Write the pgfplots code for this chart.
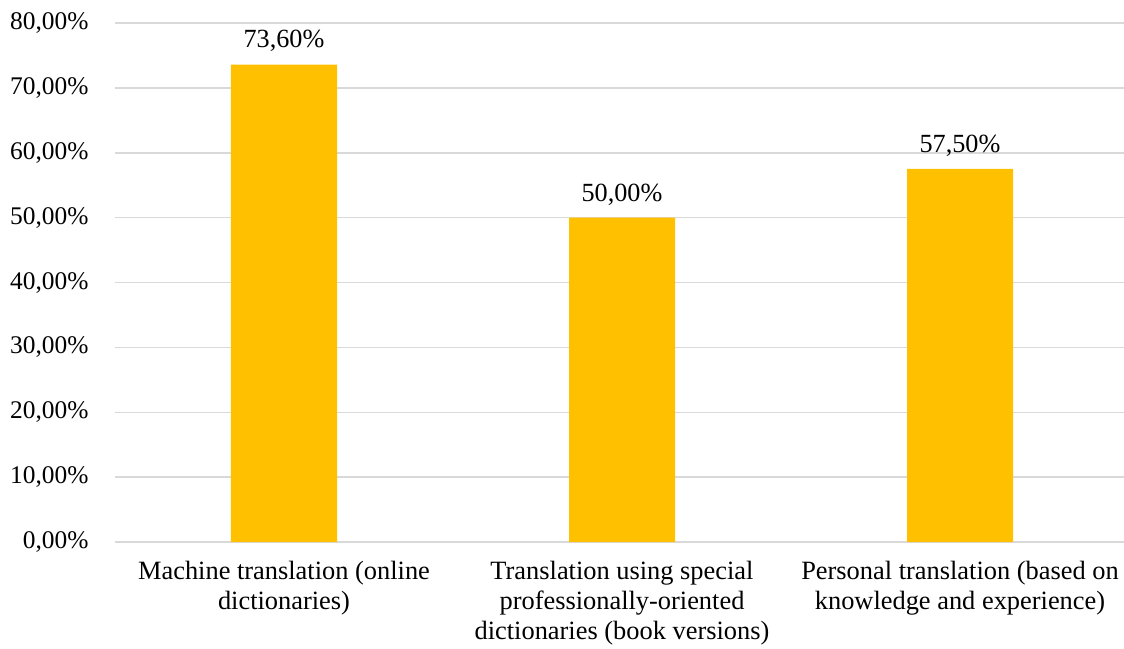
\documentclass[border=0pt]{standalone}
\usepackage{pgfplots}
\pgfplotsset{compat=1.18}
\usepackage{fontspec}
\setmainfont{Liberation Serif}
\definecolor{bargold}{HTML}{FFC000}
\definecolor{gridgray}{HTML}{D9D9D9}
\begin{document}
\fontsize{25}{32}\selectfont
\begin{tikzpicture}
\begin{axis}[
  at={(115pt,-542pt)}, anchor=south west,
  scale only axis,
  width=1009pt, height=519pt,
  xmin=-0.5, xmax=2.4852,
  ymin=0, ymax=80,
  ytick={0,10,...,80},
  xtick={0,1,2},
  xticklabels={{Machine translation (online\\dictionaries)},
               {Translation using special\\professionally-oriented\\dictionaries (book versions)},
               {Personal translation (based on\\knowledge and experience)}},
  xticklabel style={align=center, font=\fontsize{26.4}{30}\selectfont, yshift=-11pt},
  yticklabel style={font=\fontsize{25.4}{30}\selectfont, xshift=-18pt},
  /pgf/number format/assume math mode=true,
  yticklabel={\pgfmathprintnumber[fixed,fixed zerofill,precision=2,use comma]{\tick}\%},
  axis line style={draw=none},
  major tick length=0pt,
  ymajorgrids,
  grid style={gridgray, line width=1.5pt},
  axis on top=false,
  ybar, bar width=106pt,
  nodes near coords={\pgfmathprintnumber[fixed,fixed zerofill,precision=2,use comma]{\pgfplotspointmeta}\%},
  nodes near coords style={font=\fontsize{26.2}{30}\selectfont, black, yshift=4pt},
  clip=false,
]
\draw[gridgray, line width=1.5pt] (axis cs:-0.5,0) -- (axis cs:2.4852,0);
\addplot[fill=bargold, draw=none] coordinates {(0,73.6) (1,50.0) (2,57.5)};
\end{axis}
\pgfresetboundingbox
\path (0,0) rectangle (1124pt,-648pt);
\end{tikzpicture}
\end{document}
